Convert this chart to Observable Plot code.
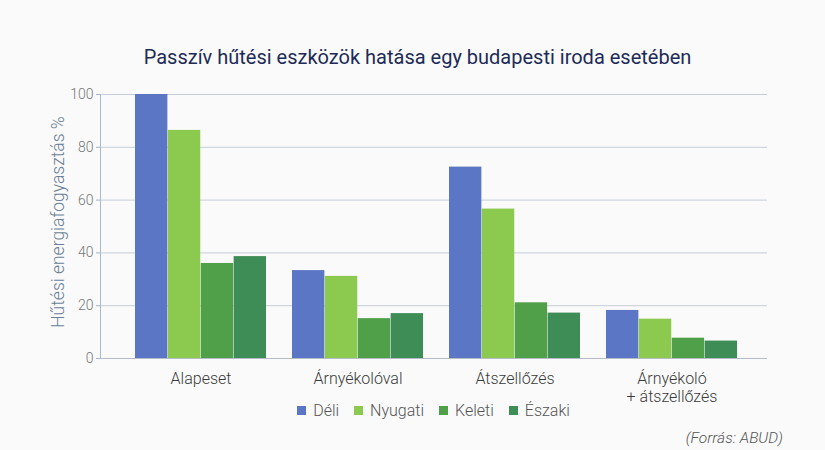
<!DOCTYPE html>
<html><head><meta charset="utf-8">
<script src="https://cdn.jsdelivr.net/npm/d3@7"></script>
<script src="https://cdn.jsdelivr.net/npm/@observablehq/plot@0.6"></script>
<style>
body{margin:0;background:#fafafa;font-family:Roboto,"Noto Sans",sans-serif;width:825px;height:450px;overflow:hidden;position:relative}
#title{height:80px;box-sizing:border-box;padding-top:45px;padding-left:10px;text-align:center;font-size:20px;line-height:24px;font-weight:400;color:#1d2b58}
#ylabel{position:absolute;left:58px;top:222px;transform:translate(-50%,-50%) rotate(-90deg);white-space:nowrap;font-size:17.5px;font-weight:300;color:#6b7f97}
#legend{height:22px;line-height:22px;padding-left:100px;padding-right:58px;display:flex;justify-content:center;gap:15px;font-size:16px;font-weight:300;color:#555}
#legend span.sw{display:inline-block;width:9px;height:9px;margin-right:7px;vertical-align:1px}
#caption{margin-top:6px;line-height:20px;text-align:right;padding-right:42px;font-size:15.5px;font-style:italic;font-weight:300;color:#555}
</style></head>
<body>
<div id="title">Passzív hűtési eszközök hatása egy budapesti iroda esetében</div>
<div id="ylabel">Hűtési energiafogyasztás %</div>
<div id="chart"></div>
<div id="legend"></div>
<div id="caption">(Forrás: ABUD)</div>
<script>
const categories = ["Alapeset", "Árnyékolóval", "Átszellőzés", "Árnyékoló\n+ átszellőzés"];
const series = ["Déli", "Nyugati", "Keleti", "Északi"];
const deli = [100, 33.3, 72.5, 18.2];
const nyugati = [86.4, 31.1, 56.6, 14.9];
const keleti = [36, 15.1, 21.1, 7.7];
const eszaki = [38.6, 17, 17.2, 6.6];
const colors = ["#5b76c4", "#8cc94f", "#50a04a", "#3f8d56"];
const yTicks = [0, 20, 40, 60, 80, 100];

const values = [deli, nyugati, keleti, eszaki];
const data = [];
series.forEach((s, i) => categories.forEach((c, j) => data.push({category: c, series: s, value: values[i][j]})));

const xRange = [134, 738];
const padInner = 0.165;
const bw = (xRange[1] - xRange[0]) / (categories.length - padInner) * (1 - padInner);
const w = bw / series.length;

const barMarks = series.map((s, i) =>
  Plot.barY(data.filter(d => d.series === s), {
    x: "category", y: "value", fill: "series",
    insetLeft: i * w, insetRight: (series.length - 1 - i) * w
  })
);

const plot = Plot.plot({
  width: 825, height: 320,
  marginLeft: 100, marginRight: 58, marginTop: 14, marginBottom: 42,
  style: {fontFamily: "Roboto, 'Noto Sans', sans-serif", background: "transparent", overflow: "visible"},
  x: {type: "band", domain: categories, range: xRange, paddingInner: padInner, paddingOuter: 0, axis: null},
  y: {domain: [0, 100], ticks: yTicks, axis: null},
  color: {domain: series, range: colors},
  marks: [
    Plot.gridY(yTicks.slice(1), {stroke: "#c6cdd8", strokeOpacity: 1}),
    Plot.axisY(yTicks, {tickSize: 4, tickPadding: 3, stroke: "#a5b3c2", fill: "#777", fontSize: 14, fontWeight: 300, label: null}),
    Plot.frame({anchor: "left", stroke: "#a9bac9"}),
    ...barMarks,
    Plot.ruleY([0], {stroke: "#b4bcc7"}),
    Plot.text(categories, {x: d => d, frameAnchor: "bottom", dy: 12, lineAnchor: "top", lineHeight: 1.15, fontSize: 16, fontWeight: 300, fill: "#3a3a3a"})
  ]
});
document.getElementById("chart").appendChild(plot);

const legend = document.getElementById("legend");
series.forEach((s, i) => {
  const item = document.createElement("div");
  item.innerHTML = `<span class="sw" style="background:${colors[i]}"></span>${s}`;
  legend.appendChild(item);
});
</script>
</body></html>
